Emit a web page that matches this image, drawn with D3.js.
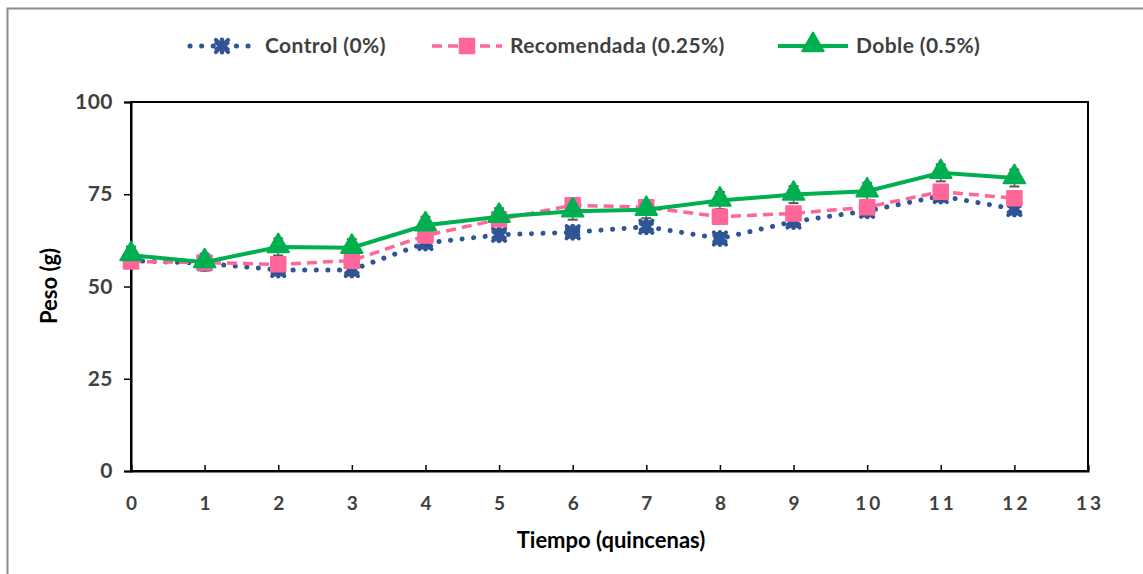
<!DOCTYPE html>
<html>
<head>
<meta charset="utf-8">
<script src="https://cdn.jsdelivr.net/npm/d3@7"></script>
<style>
  body { margin: 0; background: #fff; }
  text { font-family: Lato, "Open Sans", sans-serif; font-weight: bold; }
</style>
</head>
<body>
<svg id="chart"></svg>
<script>
let quincenas = [0, 1, 2, 3, 4, 5, 6, 7, 8, 9, 10, 11, 12]
let control = [57, 56.3, 54.5, 54.5, 61.8, 64, 64.7, 66.2, 63, 67.6, 70.5, 74.5, 71]
let recomendada = [56.8, 56.5, 56, 57, 63.8, 68.2, 72, 71.5, 68.9, 69.8, 71.5, 75.7, 73.9]
let doble = [58.5, 56.6, 60.7, 60.5, 66.6, 68.9, 70.4, 70.8, 73.3, 74.9, 75.8, 80.8, 79.4]
let errControl = [1.5, 1.5, 1.5, 1.5, 1.5, 1.5, 1.5, 1.5, 1.5, 1.5, 1.5, 1.5, 1.5]
let errRecomendada = [1.5, 1.5, 1.5, 1.5, 1.5, 1.5, 1.5, 1.5, 1.5, 1.5, 1.5, 1.5, 1.5]
let errDoble = [2.3, 2.3, 2.3, 2.3, 2.3, 2.3, 2.3, 2.3, 2.3, 2.3, 2.3, 2.3, 2.3]
let xTicks = [0, 1, 2, 3, 4, 5, 6, 7, 8, 9, 10, 11, 12, 13]
let yTicks = [0, 25, 50, 75, 100]

let width = 1143
let height = 574
let plotLeft = 131, plotRight = 1088, plotTop = 102, plotBottom = 471

let svg = d3.select('#chart').attr('width', width).attr('height', height)

// outer frame
svg.append('rect')
    .attr('x', 7.5).attr('y', 8.5)
    .attr('width', width + 10).attr('height', height + 10)
    .attr('fill', 'none').attr('stroke', '#8c8c8c').attr('stroke-width', 2)

let xScale = d3.scaleLinear().domain([0, 13]).range([plotLeft, plotRight])
let yScale = d3.scaleLinear().domain([0, 100]).range([plotBottom, plotTop])

// plot area border
svg.append('rect')
    .attr('x', plotLeft).attr('y', plotTop)
    .attr('width', plotRight - plotLeft).attr('height', plotBottom - plotTop)
    .attr('fill', 'none').attr('stroke', '#000').attr('stroke-width', 2)

let xAxis = d3.axisBottom(xScale).tickValues(xTicks).tickSize(-6).tickPadding(26)
let gx = svg.append('g')
    .attr('transform', 'translate(0,' + plotBottom + ')')
    .call(xAxis)
gx.select('.domain').attr('stroke', '#000').attr('stroke-width', 2)
gx.selectAll('.tick line').attr('stroke', '#000').attr('stroke-width', 1.5)
gx.selectAll('.tick text')
    .attr('fill', '#404040').attr('font-size', 19).attr('letter-spacing', 3)
    .attr('dx', 1.5)

let yAxis = d3.axisLeft(yScale).tickValues(yTicks).tickSize(7).tickPadding(11)
let gy = svg.append('g')
    .attr('transform', 'translate(' + plotLeft + ',0)')
    .call(yAxis)
gy.select('.domain').attr('stroke', '#000').attr('stroke-width', 2)
gy.selectAll('.tick line').attr('stroke', '#000').attr('stroke-width', 1.5)
gy.selectAll('.tick text')
    .attr('fill', '#404040').attr('font-size', 21).attr('letter-spacing', 0.5)

// axis titles
svg.append('text')
    .attr('x', 611).attr('y', 548)
    .attr('text-anchor', 'middle').attr('font-size', 22).attr('fill', '#000')
    .text('Tiempo (quincenas)')
svg.append('text')
    .attr('transform', 'translate(57,' + 286 + ') rotate(-90)')
    .attr('text-anchor', 'middle').attr('font-size', 22).attr('fill', '#000')
    .text('Peso (g)')

let series = [
    { name: 'Control (0%)', values: control, err: errControl, color: '#2F5597',
      dash: '0.1 11.5', width: 5, cap: 'round', symbol: d3.symbolAsterisk, size: 110 },
    { name: 'Recomendada (0.25%)', values: recomendada, err: errRecomendada, color: '#FF6699',
      dash: '10 6', width: 3.5, cap: 'butt', symbol: d3.symbolSquare, size: 210 },
    { name: 'Doble (0.5%)', values: doble, err: errDoble, color: '#00B050',
      dash: null, width: 4, cap: 'butt', symbol: d3.symbolTriangle, size: 200 }
]

let line = d3.line().x((d, i) => xScale(quincenas[i])).y(d => yScale(d))

// error bars
series.forEach(s => {
    let g = svg.append('g')
    s.values.forEach((v, i) => {
        let x = xScale(quincenas[i])
        let y1 = yScale(v - s.err[i]), y2 = yScale(v + s.err[i])
        g.append('line').attr('x1', x).attr('x2', x).attr('y1', y1).attr('y2', y2)
            .attr('stroke', '#595959').attr('stroke-width', 1.5)
        ;[y1, y2].forEach(y => {
            g.append('line').attr('x1', x - 5).attr('x2', x + 5).attr('y1', y).attr('y2', y)
                .attr('stroke', '#595959').attr('stroke-width', 2)
        })
    })
})

let drawMarker = (g, s, x, y) => {
    if (s.symbol === d3.symbolAsterisk) {
        g.append('path')
            .attr('d', d3.symbol().type(d3.symbolAsterisk).size(s.size)())
            .attr('transform', 'translate(' + x + ',' + y + ')')
            .attr('fill', 'none').attr('stroke', s.color).attr('stroke-width', 4.5)
            .attr('stroke-linecap', 'round')
        g.append('path')
            .attr('d', d3.symbol().type(d3.symbolX).size(s.size * 0.9)())
            .attr('transform', 'translate(' + x + ',' + y + ')')
            .attr('fill', 'none').attr('stroke', s.color).attr('stroke-width', 4)
            .attr('stroke-linecap', 'round')
    } else {
        let dy = s.symbol === d3.symbolTriangle ? -1 : 0
        g.append('path')
            .attr('d', d3.symbol().type(s.symbol).size(s.size)())
            .attr('transform', 'translate(' + x + ',' + (y + dy) + ')')
            .attr('fill', s.color).attr('stroke', s.color).attr('stroke-width', 2)
            .attr('stroke-linejoin', 'round')
    }
}

series.forEach(s => {
    svg.append('path')
        .attr('d', line(s.values))
        .attr('fill', 'none')
        .attr('stroke', s.color)
        .attr('stroke-width', s.width)
        .attr('stroke-dasharray', s.dash)
        .attr('stroke-linecap', s.cap)
    let g = svg.append('g')
    s.values.forEach((v, i) => drawMarker(g, s, xScale(quincenas[i]), yScale(v)))
})

// legend
let legendX = [187, 432, 778]
let legendY = 46
series.forEach((s, i) => {
    let x0 = legendX[i]
    let g = svg.append('g')
    g.append('line')
        .attr('x1', x0 + (s.cap === 'round' ? 3 : 0)).attr('x2', x0 + 70)
        .attr('y1', legendY).attr('y2', legendY)
        .attr('stroke', s.color).attr('stroke-width', s.width)
        .attr('stroke-dasharray', s.dash).attr('stroke-linecap', s.cap)
    drawMarker(g, s, x0 + 35, legendY)
    g.append('text')
        .attr('x', x0 + 78).attr('y', legendY + 7)
        .attr('font-size', 21).attr('letter-spacing', 0.4).attr('fill', '#404040')
        .text(s.name)
})
</script>
</body>
</html>
